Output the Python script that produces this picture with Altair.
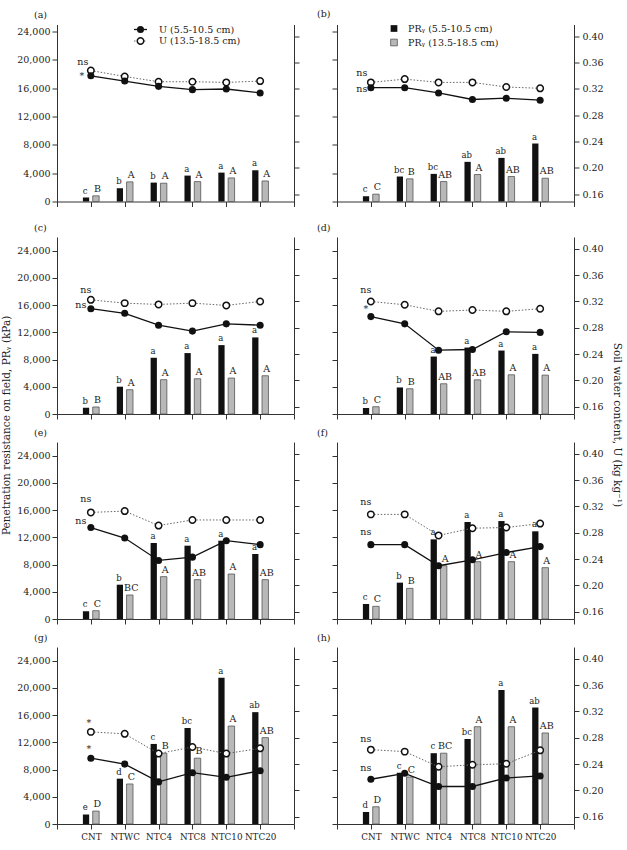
import json
import altair as alt
import pandas as pd

CATS = ["CNT", "NTWC", "NTC4", "NTC8", "NTC10", "NTC20"]
PANEL_LABELS = ["(a)", "(b)", "(c)", "(d)", "(e)", "(f)", "(g)", "(h)"]

# Penetration resistance (kPa), 5.5-10.5 cm (black bars)
PR_SHALLOW = [
    [560, 1875, 2670, 3660, 4080, 4410],
    [750, 3530, 3900, 5600, 6160, 8190],
    [930, 4010, 8260, 8950, 10120, 11250],
    [880, 3900, 8440, 9760, 9320, 8830],
    [1130, 5040, 11160, 10770, 11500, 9550],
    [2200, 5340, 11700, 14250, 14390, 12880],
    [1410, 6660, 11760, 14100, 21480, 16430],
    [1750, 7530, 10400, 12490, 19680, 17110],
]
# Penetration resistance (kPa), 13.5-18.5 cm (gray bars)
PR_DEEP = [
    [800, 2770, 2580, 2810, 3330, 2900],
    [1035, 3200, 2820, 3810, 3530, 3290],
    [1030, 3570, 5040, 5180, 5280, 5620],
    [1070, 3710, 4440, 5020, 5760, 5710],
    [1220, 3525, 6220, 5780, 6610, 5780],
    [1860, 4500, 7830, 8420, 8420, 7540],
    [1900, 5880, 10400, 9670, 14390, 12690],
    [2530, 6900, 10400, 14290, 14290, 13370],
]
# Soil water content (kg/kg), 5.5-10.5 cm (filled circles)
U_SHALLOW = [
    [0.340, 0.332, 0.324, 0.319, 0.320, 0.314],
    [0.322, 0.322, 0.314, 0.304, 0.306, 0.303],
    [0.309, 0.302, 0.284, 0.275, 0.286, 0.284],
    [0.297, 0.286, 0.246, 0.247, 0.274, 0.273],
    [0.288, 0.272, 0.238, 0.243, 0.268, 0.262],
    [0.262, 0.262, 0.230, 0.239, 0.250, 0.259],
    [0.249, 0.240, 0.213, 0.227, 0.220, 0.230],
    [0.217, 0.226, 0.206, 0.206, 0.219, 0.222],
]
# Soil water content (kg/kg), 13.5-18.5 cm (open circles)
U_DEEP = [
    [0.348, 0.339, 0.331, 0.331, 0.330, 0.332],
    [0.330, 0.335, 0.330, 0.330, 0.323, 0.321],
    [0.3225, 0.3175, 0.3155, 0.3175, 0.314, 0.320],
    [0.320, 0.315, 0.305, 0.307, 0.305, 0.309],
    [0.311, 0.313, 0.291, 0.2995, 0.2995, 0.2995],
    [0.308, 0.308, 0.276, 0.287, 0.288, 0.294],
    [0.289, 0.286, 0.256, 0.266, 0.256, 0.264],
    [0.262, 0.259, 0.236, 0.239, 0.2405, 0.261],
]
LET_SHALLOW = [
    ["c", "b", "b", "a", "a", "a"],
    ["c", "bc", "bc", "ab", "ab", "a"],
    ["b", "b", "a", "a", "a", "a"],
    ["b", "b", "a", "a", "a", "a"],
    ["c", "b", "a", "a", "a", "a"],
    ["c", "b", "a", "a", "a", "a"],
    ["e", "d", "c", "bc", "a", "ab"],
    ["d", "c", "c", "bc", "a", "ab"],
]
LET_DEEP = [
    ["B", "A", "A", "A", "A", "A"],
    ["C", "B", "AB", "A", "AB", "AB"],
    ["B", "A", "A", "A", "A", "A"],
    ["C", "B", "AB", "AB", "A", "A"],
    ["C", "BC", "A", "AB", "A", "AB"],
    ["C", "B", "A", "A", "A", "A"],
    ["D", "C", "B", "B", "A", "AB"],
    ["D", "C", "BC", "A", "A", "AB"],
]
SIG_SHALLOW = ["*", "ns", "ns", "*", "ns", "ns", "*", "ns"]
SIG_DEEP = ["ns", "ns", "ns", "ns", "ns", "ns", "*", "ns"]

PR_TICKS = [0, 4000, 8000, 12000, 16000, 20000, 24000]
U_TICKS = [0.16, 0.20, 0.24, 0.28, 0.32, 0.36, 0.40]

LEG_U = ["U (5.5-10.5 cm)", "U (13.5-18.5 cm)"]
LEG_PR = ["PRᵧ (5.5-10.5 cm)", "PRᵧ (13.5-18.5 cm)"]
Y_TITLE_LEFT = "Penetration resistance on field, PRᵧ (kPa)"
Y_TITLE_RIGHT = "Soil water content, U (kg kg⁻¹)"

# style-only offsets for the significance marks
SIG_OPEN_DX = [-8, -9, -5, -5, -5, -5, -2, -5]
SIG_OPEN_DY = [-9, -9, -10, -11, -13, -12, -9, -11]
SIG_FILL_DX = [-9, -9, -10, -5, -10, -5, -2, -5]
SIG_FILL_DY = [0, 1, -4, -8, -7, -13, -9, -11]

FONT = "DejaVu Serif"
TXT = "#222"
AX = "#333"
W, H = 237, 177

label_expr = ("datum.value >= 1 && datum.value <= 6 ? " + json.dumps(CATS)
              + "[datum.value - 1] : ''")


def build_panel(i):
    left = (i % 2 == 0)
    bottom = i >= 6
    pr_max = 25000 if i < 2 else 26000
    pos = [k + 1 for k in range(len(CATS))]
    df = pd.DataFrame({
        "cat": CATS, "pos": pos,
        "pr1": PR_SHALLOW[i], "pr2": PR_DEEP[i],
        "u1": U_SHALLOW[i], "u2": U_DEEP[i],
        "l1": LET_SHALLOW[i], "l2": LET_DEEP[i],
    })
    df["b1a"] = df["pos"] - 0.235
    df["b1b"] = df["pos"] - 0.05
    df["b1c"] = (df["b1a"] + df["b1b"]) / 2
    df["b2a"] = df["pos"] + 0.055
    df["b2b"] = df["pos"] + 0.245
    df["b2c"] = (df["b2a"] + df["b2b"]) / 2

    xs = alt.Scale(domain=[0, 7], nice=False, zero=False)
    xaxis = alt.Axis(values=list(range(8)), labelExpr=label_expr, labels=bottom,
                     title=None, grid=False, tickSize=5, labelPadding=3,
                     labelFontSize=8.8, labelOverlap=False, labelBound=False,
                     labelFlush=False)
    ys_pr = alt.Scale(domain=[0, pr_max], nice=False, zero=True)
    ys_u = alt.Scale(domain=[0.149, 0.418], nice=False, zero=False)
    pr_axis = alt.Axis(orient="left", values=PR_TICKS, format=",d", labels=left,
                       title=None, grid=False, tickSize=5, labelPadding=2,
                       labelOverlap=False, labelFlush=False)
    u_axis = alt.Axis(orient="right", values=U_TICKS, format=".2f", labels=not left,
                      title=None, grid=False, tickSize=5, labelPadding=3,
                      labelOverlap=False, labelFlush=False)

    base = alt.Chart(df)
    bar1 = base.mark_bar(color="#111").encode(
        x=alt.X("b1a:Q", scale=xs, axis=xaxis), x2="b1b:Q",
        y=alt.Y("pr1:Q", scale=ys_pr, axis=pr_axis), y2=alt.datum(0))
    bar2 = base.mark_bar(color="#b8b8b8", stroke="#555", strokeWidth=0.8).encode(
        x=alt.X("b2a:Q", scale=xs, axis=xaxis), x2="b2b:Q",
        y=alt.Y("pr2:Q", scale=ys_pr, axis=pr_axis), y2=alt.datum(0))
    let1 = base.mark_text(font=FONT, fontSize=8.5, color=TXT, baseline="bottom",
                          dy=-2, dx=-0.8).encode(
        x=alt.X("b1c:Q", scale=xs, axis=xaxis),
        y=alt.Y("pr1:Q", scale=ys_pr, axis=pr_axis), text="l1:N")
    let2 = base.mark_text(font=FONT, fontSize=9.5, color=TXT, baseline="bottom",
                          dy=-2, dx=1.5).encode(
        x=alt.X("b2c:Q", scale=xs, axis=xaxis),
        y=alt.Y("pr2:Q", scale=ys_pr, axis=pr_axis), text="l2:N")
    bars = alt.layer(bar1, bar2, let1, let2)

    xq = alt.X("pos:Q", scale=xs, axis=xaxis)
    line2 = base.mark_line(color="#666", strokeWidth=1, strokeDash=[1.5, 1.8]).encode(
        x=xq, y=alt.Y("u2:Q", scale=ys_u, axis=u_axis))
    line1 = base.mark_line(color="#111", strokeWidth=1.3).encode(
        x=xq, y=alt.Y("u1:Q", scale=ys_u, axis=u_axis))
    pt2 = base.mark_point(shape="circle", filled=True, fill="white", stroke="#111",
                          strokeWidth=1.5, size=42, opacity=1).encode(
        x=xq, y=alt.Y("u2:Q", scale=ys_u, axis=u_axis))
    pt1 = base.mark_point(shape="circle", filled=True, color="#111", size=50, opacity=1).encode(
        x=xq, y=alt.Y("u1:Q", scale=ys_u, axis=u_axis))
    sig_df = pd.DataFrame({"pos": [1], "u1": [U_SHALLOW[i][0]], "u2": [U_DEEP[i][0]],
                           "s1": [SIG_SHALLOW[i]], "s2": [SIG_DEEP[i]]})
    sbase = alt.Chart(sig_df)
    sig2 = sbase.mark_text(font=FONT, fontSize=9.5, color=TXT, align="center", baseline="middle",
                           dx=SIG_OPEN_DX[i], dy=SIG_OPEN_DY[i]).encode(
        x=xq, y=alt.Y("u2:Q", scale=ys_u, axis=u_axis), text="s2:N")
    sig1 = sbase.mark_text(font=FONT, fontSize=9.5, color=TXT, align="center", baseline="middle",
                           dx=SIG_FILL_DX[i], dy=SIG_FILL_DY[i]).encode(
        x=xq, y=alt.Y("u1:Q", scale=ys_u, axis=u_axis), text="s1:N")
    layers = [line2, line1, pt2, pt1, sig2, sig1]

    if i == 0:
        lg = alt.Chart(pd.DataFrame({"t": [LEG_U[0]]}))
        lg2 = alt.Chart(pd.DataFrame({"t": [LEG_U[1]]}))
        layers += [
            lg.mark_rule(color="#111", strokeWidth=1.3).encode(
                x=alt.value(77), x2=alt.value(90), y=alt.value(5)),
            lg.mark_point(shape="circle", filled=True, color="#111", size=50, opacity=1).encode(
                x=alt.value(83.5), y=alt.value(5)),
            lg.mark_text(font=FONT, fontSize=9.5, color=TXT, align="left", baseline="middle").encode(
                x=alt.value(102), y=alt.value(5), text="t:N"),
            lg2.mark_rule(color="#666", strokeWidth=1, strokeDash=[1.5, 1.8]).encode(
                x=alt.value(77), x2=alt.value(90), y=alt.value(16.5)),
            lg2.mark_point(shape="circle", filled=True, fill="white", stroke="#111",
                           strokeWidth=1.5, size=42, opacity=1).encode(
                x=alt.value(83.5), y=alt.value(16.5)),
            lg2.mark_text(font=FONT, fontSize=9.5, color=TXT, align="left", baseline="middle").encode(
                x=alt.value(102), y=alt.value(16.5), text="t:N"),
        ]
    if i == 1:
        lg = alt.Chart(pd.DataFrame({"t": [LEG_PR[0]]}))
        lg2 = alt.Chart(pd.DataFrame({"t": [LEG_PR[1]]}))
        layers += [
            lg.mark_point(shape="square", filled=True, color="#111", size=45, opacity=1).encode(
                x=alt.value(57), y=alt.value(4)),
            lg.mark_text(font=FONT, fontSize=9.5, color=TXT, align="left", baseline="middle").encode(
                x=alt.value(71), y=alt.value(4), text="t:N"),
            lg2.mark_point(shape="square", filled=True, fill="#b8b8b8", stroke="#555",
                           strokeWidth=0.8, size=45, opacity=1).encode(
                x=alt.value(57), y=alt.value(18)),
            lg2.mark_text(font=FONT, fontSize=9.5, color=TXT, align="left", baseline="middle").encode(
                x=alt.value(71), y=alt.value(18), text="t:N"),
        ]
    lines = alt.layer(*layers)

    return alt.layer(bars, lines).resolve_scale(y="independent").properties(
        width=W, height=H,
        title=alt.TitleParams(PANEL_LABELS[i], anchor="start", frame="group",
                              dx=-23 if left else -20, offset=5, font=FONT,
                              fontSize=9.5, fontWeight="normal", color=TXT),
    )


panels = [build_panel(i) for i in range(8)]

left_col = alt.vconcat(
    panels[0], alt.vconcat(panels[2], panels[4], panels[6], spacing=7),
    spacing=14.5,
    title=alt.TitleParams(Y_TITLE_LEFT, orient="left", anchor="middle", font=FONT,
                          fontSize=10.5, fontWeight="normal", color=TXT, offset=4),
)
right_col = alt.vconcat(
    panels[1], alt.vconcat(panels[3], panels[5], panels[7], spacing=7),
    spacing=14.5,
    title=alt.TitleParams(Y_TITLE_RIGHT, orient="right", anchor="middle", font=FONT,
                          fontSize=10.5, fontWeight="normal", color=TXT, offset=8),
)

chart = alt.hconcat(left_col, right_col, spacing=17).properties(
    padding={"left": 2, "top": 8.5, "right": 2, "bottom": 2}
).configure_view(stroke=None).configure_axis(
    grid=False, domainColor=AX, tickColor=AX, labelColor=TXT, labelFont=FONT,
    labelFontSize=9.5, domainWidth=1, tickWidth=1,
)

chart.save("out.html", embed_options={"renderer": "svg", "actions": False})
